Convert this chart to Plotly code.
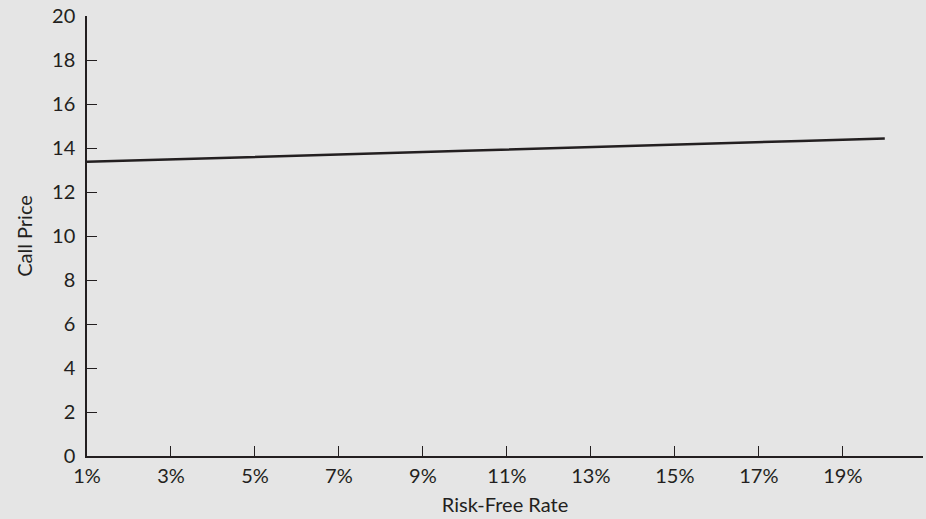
import plotly.graph_objects as go

rates = list(range(1, 21))  # risk-free rate, %
call_price = [13.37, 13.43, 13.48, 13.54, 13.59, 13.65, 13.70, 13.76, 13.82, 13.87,
              13.93, 13.98, 14.04, 14.09, 14.15, 14.20, 14.26, 14.32, 14.37, 14.43]
x_ticks = [1, 3, 5, 7, 9, 11, 13, 15, 17, 19]
x_tick_labels = [f"{v}%" for v in x_ticks]
y_ticks = list(range(0, 21, 2))

ink = "#231f20"
bg = "#e5e5e5"

fig = go.Figure()
fig.add_trace(go.Scatter(x=rates, y=call_price, mode="lines",
                         line=dict(color=ink, width=2.5), showlegend=False,
                         hoverinfo="skip"))

fig.update_layout(
    width=926, height=519,
    paper_bgcolor=bg, plot_bgcolor=bg,
    margin=dict(l=87, r=3, t=16, b=63),
    font=dict(family="Lato, 'Open Sans', sans-serif", size=20, color=ink),
    xaxis=dict(range=[1, 20.91], tickvals=x_ticks, ticktext=x_tick_labels,
               showgrid=False, zeroline=False, showline=True, linecolor=ink,
               linewidth=1.5, ticks="inside", ticklen=10, tickcolor=ink,
               tickwidth=1.3, ticklabelstandoff=1,
               title=dict(text="Risk-Free Rate", standoff=12,
                          font=dict(size=20)),
               automargin=False),
    yaxis=dict(range=[0, 20], tickvals=y_ticks, showgrid=False, zeroline=False,
               showline=True, linecolor=ink, linewidth=1.5, ticks="inside",
               ticklen=10, tickcolor=ink, tickwidth=1.3, ticklabelstandoff=6,
               title=dict(text="Call Price", standoff=14, font=dict(size=20)),
               automargin=False),
)

fig.write_html(
    "out.html",
    config={"displayModeBar": False},
    post_script="document.body.style.margin='0';document.body.style.background='#e5e5e5';",
)
